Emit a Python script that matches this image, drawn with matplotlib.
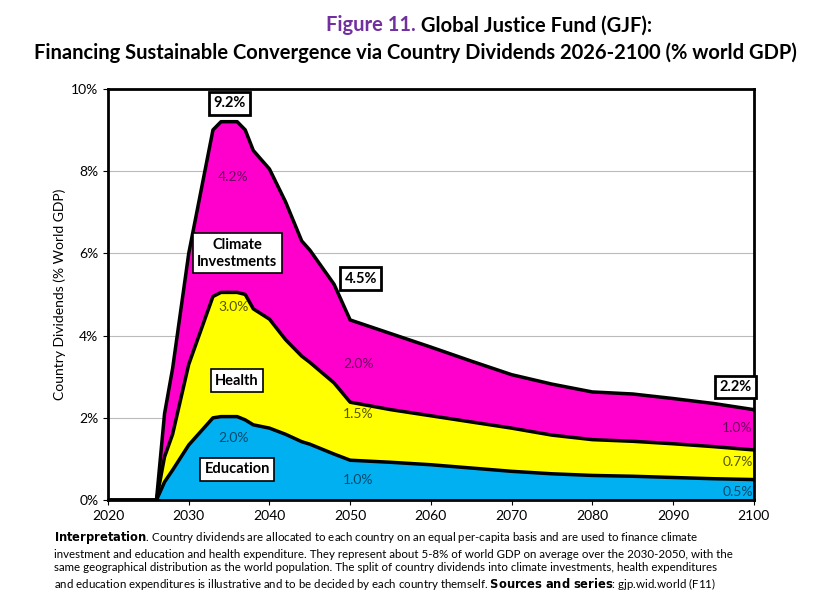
import matplotlib.pyplot as plt
import numpy as np
from matplotlib.ticker import FuncFormatter

plt.rcParams['font.family'] = ['Lato', 'DejaVu Sans']

years = [2020, 2026, 2027, 2028, 2030, 2033, 2034, 2036, 2037, 2038, 2040, 2042, 2044,
         2045, 2048, 2050, 2055, 2060, 2065, 2070, 2075, 2080, 2085, 2090, 2095, 2100]
education = [0, 0, 0.44, 0.73, 1.34, 2.0, 2.03, 2.03, 1.95, 1.83, 1.75, 1.6, 1.42,
             1.36, 1.12, 0.97, 0.92, 0.86, 0.78, 0.70, 0.64, 0.60, 0.58, 0.55, 0.52, 0.50]
health = [0, 0, 0.61, 0.87, 1.96, 2.95, 3.02, 3.02, 3.05, 2.82, 2.65, 2.3, 2.08,
          1.99, 1.73, 1.41, 1.28, 1.19, 1.12, 1.05, 0.94, 0.87, 0.85, 0.82, 0.78, 0.72]
climate = [0, 0, 1.05, 1.6, 2.7, 4.05, 4.15, 4.15, 4.0, 3.85, 3.65, 3.35, 2.8,
           2.73, 2.4, 2.0, 1.85, 1.67, 1.48, 1.3, 1.24, 1.16, 1.15, 1.1, 1.05, 0.98]

fig = plt.figure(figsize=(8.31, 6.04), dpi=100)
ax = fig.add_axes([0.130, 0.172, 0.777, 0.681])

x = np.array(years)
e = np.array(education)
h = e + np.array(health)
t = h + np.array(climate)
ax.fill_between(x, 0, e, color='#00B0F0', lw=0)
ax.fill_between(x, e, h, color='#FFFF00', lw=0)
ax.fill_between(x, h, t, color='#FF00CC', lw=0)
for y in (e, h, t):
    ax.plot(x, y, color='black', lw=2.5, solid_joinstyle='round')

ax.set_xlim(2020, 2100)
ax.set_ylim(0, 10)
ax.set_xticks(range(2020, 2101, 10))
ax.set_yticks(range(0, 11, 2))
ax.yaxis.set_major_formatter(FuncFormatter(lambda v, p: '%d%%' % v))
ax.grid(axis='y', color='#bbbbbb', lw=0.8)
ax.set_axisbelow(True)
for s in ax.spines.values():
    s.set_linewidth(2)
ax.tick_params(labelsize=10)
ax.set_ylabel('Country Dividends (% World GDP)', fontsize=10)

def label(xx, yy, s, color='black', size=10):
    ax.text(xx, yy, s, ha='center', va='center', fontsize=size, color=color)

label(2035.5, 7.85, '4.2%', '#6a0060')
label(2035.5, 4.7, '3.0%', '#555500')
label(2035.5, 1.5, '2.0%', '#004a70')
label(2051, 3.3, '2.0%', '#6a0060')
label(2051, 2.1, '1.5%', '#555500')
label(2051, 0.5, '1.0%', '#004a70')
label(2098, 1.75, '1.0%', '#6a0060')
label(2098, 0.93, '0.7%', '#555500')
label(2098, 0.2, '0.5%', '#004a70')

box = dict(boxstyle='square,pad=0.3', fc='white', ec='black', lw=1.2)
for xx, yy, s in [(2036, 6.0, 'Climate\nInvestments'), (2036, 2.9, 'Health'),
                  (2036, 0.75, 'Education')]:
    ax.text(xx, yy, s, ha='center', va='center', fontsize=10.5, fontweight='bold',
            bbox=box, linespacing=1.3)
box2 = dict(boxstyle='square,pad=0.3', fc='white', ec='black', lw=2)
for xx, yy, s in [(2035, 9.65, '9.2%'), (2051.3, 5.38, '4.5%'), (2097.8, 2.75, '2.2%')]:
    ax.text(xx, yy, s, ha='center', va='center', fontsize=10.5, fontweight='bold', bbox=box2)

fig.text(0.5, 0.958, 'Figure 11.', color='#7030A0', fontsize=14.5, fontweight='bold',
         ha='right', va='center')
fig.text(0.5, 0.958, ' Global Justice Fund (GJF):', fontsize=14.5, fontweight='bold',
         ha='left', va='center')
fig.text(0.5, 0.912, 'Financing Sustainable Convergence via Country Dividends 2026-2100 (% world GDP)',
         fontsize=14.5, fontweight='bold', ha='center', va='center')

note = ("$\\bf{Interpretation}$. Country dividends are allocated to each country on an equal per-capita basis and are used to finance climate\n"
        "investment and education and health expenditure. They represent about 5-8% of world GDP on average over the 2030-2050, with the\n"
        "same geographical distribution as the world population. The split of country dividends into climate investments, health expenditures\n"
        "and education expenditures is illustrative and to be decided by each country themself. $\\bf{Sources\\ and\\ series}$: gjp.wid.world (F11)")
fig.text(0.065, 0.072, note, fontsize=8.3, ha='left', va='center', linespacing=1.25)

fig.savefig('out.png', dpi=100)
